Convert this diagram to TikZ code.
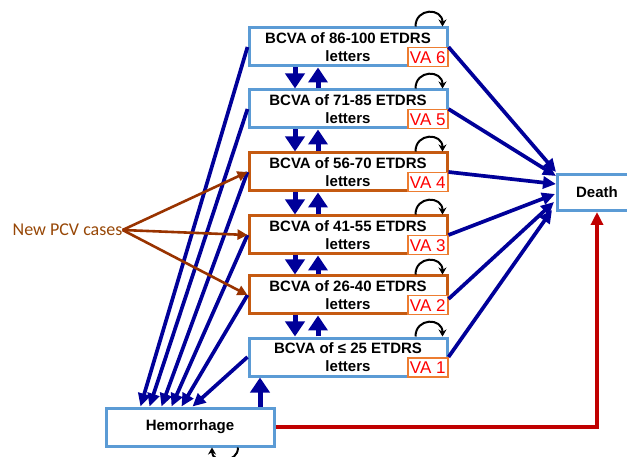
\documentclass[tikz,border=0pt]{standalone}
\usepackage{fontspec}
\setmainfont{Liberation Sans}
\newfontfamily\calibri{Carlito}
\usetikzlibrary{arrows.meta}
\definecolor{lineblue}{RGB}{91,155,213}
\definecolor{lineorange}{RGB}{197,90,17}
\definecolor{arrowblue}{RGB}{0,0,153}
\definecolor{arrowred}{RGB}{192,0,0}
\definecolor{tagorange}{RGB}{237,125,49}
\definecolor{pcvbrown}{RGB}{153,51,0}
\definecolor{pcvtext}{RGB}{151,71,6}
\tikzstyle{statebox}=[draw=lineblue, line width=3pt, fill=white, minimum width=198pt, minimum height=38pt, inner sep=0pt, align=center, font=\fontsize{15}{18}\selectfont\bfseries]
\tikzstyle{stateorange}=[statebox, draw=lineorange]
\tikzstyle{tag}=[draw=tagorange, line width=1.5pt, fill=white, text=red, anchor=south east, minimum width=40pt, minimum height=19pt, inner xsep=1pt, inner ysep=0pt, font=\fontsize{17}{17}\selectfont]
\tikzstyle{arrow}=[draw=arrowblue, line width=3.7pt, -{Triangle[length=13pt,width=12pt]}]
\tikzstyle{bigarrow}=[draw=arrowblue, line width=5pt, -{Triangle[length=15pt,width=19pt]}]
\tikzstyle{pcvarrow}=[draw=pcvbrown, line width=2.6pt, -{Triangle[length=10pt,width=10pt]}]
\tikzstyle{redarrow}=[draw=arrowred, line width=3.7pt, -{Triangle[length=13pt,width=12pt]}]
\tikzstyle{selfloop}=[draw=black, line width=2pt, -{Stealth[length=7pt,width=8pt]}]

\begin{document}
\begin{tikzpicture}[x=1pt,y=-1pt]
		   \useasboundingbox (0,0) rectangle (627,457);
		   \begin{scope}
			   \node (va6) at (348, 47)[statebox] {BCVA of 86-100 ETDRS\\letters};
			   \node (va5) at (348, 109)[statebox] {BCVA of 71-85 ETDRS\\letters};
			   \node (va4) at (348, 172)[stateorange] {BCVA of 56-70 ETDRS\\letters};
			   \node (va3) at (348, 235)[stateorange] {BCVA of 41-55 ETDRS\\letters};
			   \node (va2) at (348, 295)[stateorange] {BCVA of 26-40 ETDRS\\letters};
			   \node (va1) at (348, 357)[statebox] {BCVA of ≤ 25 ETDRS\\letters};
			   \node (tag6) at (va6.south east)[tag] {VA 6};
			   \node (tag5) at (va5.south east)[tag] {VA 5};
			   \node (tag4) at (va4.south east)[tag] {VA 4};
			   \node (tag3) at (va3.south east)[tag] {VA 3};
			   \node (tag2) at (va2.south east)[tag] {VA 2};
			   \node (tag1) at (va1.south east)[tag] {VA 1};
			   \node (hem) at (190, 427)[statebox, minimum width=168pt] {Hemorrhage};
			   \node (death) at (597, 192.5)[statebox, minimum width=79pt, minimum height=36pt] {Death};
			   \node (pcv) at (67.5, 230)[inner sep=0pt, text=pcvtext, font=\calibri\fontsize{18}{18}\selectfont] {New PCV cases};
		   \end{scope}
		   \begin{scope}
			   % down and up between neighbours
			   \draw [bigarrow] ([xshift=-53pt]va6.south) -- ([xshift=-53pt]va5.north);
			   \draw [bigarrow] ([xshift=-30pt]va5.north) -- ([xshift=-30pt]va6.south);
			   \draw [bigarrow] ([xshift=-53pt]va5.south) -- ([xshift=-53pt]va4.north);
			   \draw [bigarrow] ([xshift=-30pt]va4.north) -- ([xshift=-30pt]va5.south);
			   \draw [bigarrow] ([xshift=-53pt]va4.south) -- ([xshift=-53pt]va3.north);
			   \draw [bigarrow] ([xshift=-30pt]va3.north) -- ([xshift=-30pt]va4.south);
			   \draw [bigarrow] ([xshift=-53pt]va3.south) -- ([xshift=-53pt]va2.north);
			   \draw [bigarrow] ([xshift=-30pt]va2.north) -- ([xshift=-30pt]va3.south);
			   \draw [bigarrow] ([xshift=-53pt]va2.south) -- ([xshift=-53pt]va1.north);
			   \draw [bigarrow] ([xshift=-30pt]va1.north) -- ([xshift=-30pt]va2.south);
			   \draw [bigarrow] ([xshift=70pt]hem.north) -- ([xshift=-88pt]va1.south);
			   % to hemorrhage
			   \draw [arrow] (va6.west) -- ([xshift=36pt]hem.north west);
			   \draw [arrow] (va5.west) -- ([xshift=45pt]hem.north west);
			   \draw [arrow] (va4.west) -- ([xshift=57pt]hem.north west);
			   \draw [arrow] (va3.west) -- ([xshift=67pt]hem.north west);
			   \draw [arrow] (va2.west) -- ([xshift=77pt]hem.north west);
			   \draw [arrow] (va1.west) -- ([xshift=88pt]hem.north west);
			   % to death
			   \draw [arrow] (va6.east) -- ([yshift=20.5pt]death.west);
			   \draw [arrow] (va5.east) -- ([yshift=16.5pt]death.west);
			   \draw [arrow] (va4.east) -- ([yshift=8.5pt]death.west);
			   \draw [arrow] (va3.east) -- ([xshift=-1pt,yshift=-1.5pt]death.west);
			   \draw [arrow] ([yshift=-4pt]va2.east) -- ([xshift=-2pt,yshift=-9.5pt]death.west);
			   \draw [arrow] (va1.east) -- ([xshift=-4pt,yshift=-17.5pt]death.west);
			   \draw [redarrow] (hem.east) -| (death.south);
			   % new cases
			   \draw [pcvarrow] (pcv.east) -- (va4.west);
			   \draw [pcvarrow] (pcv.east) -- (va3.west);
			   \draw [pcvarrow] (pcv.east) -- (va2.west);
			   % staying in the same state
			   \draw [selfloop] ([xshift=-33pt]va6.north east) .. controls +(0,-19) and +(0,-19) .. ([xshift=-6pt]va6.north east);
			   \draw [selfloop] ([xshift=-33pt]va5.north east) .. controls +(0,-19) and +(0,-19) .. ([xshift=-6pt]va5.north east);
			   \draw [selfloop] ([xshift=-33pt]va4.north east) .. controls +(0,-19) and +(0,-19) .. ([xshift=-6pt]va4.north east);
			   \draw [selfloop] ([xshift=-33pt]va3.north east) .. controls +(0,-19) and +(0,-19) .. ([xshift=-6pt]va3.north east);
			   \draw [selfloop] ([xshift=-33pt]va2.north east) .. controls +(0,-19) and +(0,-19) .. ([xshift=-6pt]va2.north east);
			   \draw [selfloop] ([xshift=-33pt]va1.north east) .. controls +(0,-19) and +(0,-19) .. ([xshift=-6pt]va1.north east);
			   \draw [selfloop] ([xshift=48pt]hem.south) .. controls +(0,16) and +(0,16) .. ([xshift=22pt]hem.south);
		   \end{scope}
	   \end{tikzpicture}
\end{document}
